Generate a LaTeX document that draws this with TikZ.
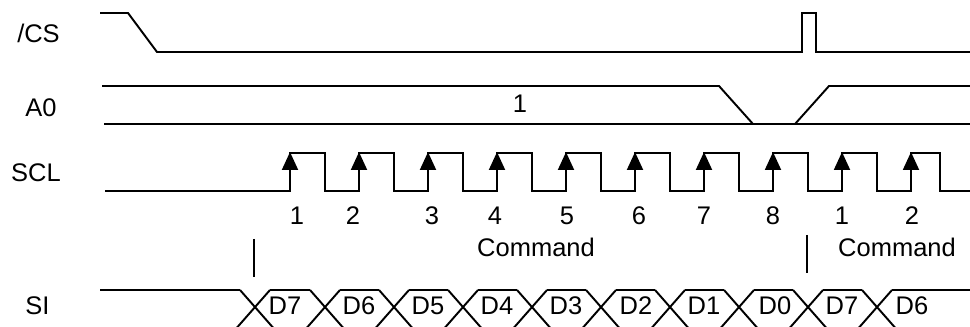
\documentclass[tikz,border=0pt]{standalone}
\usepackage{fontspec}
\setmainfont{Liberation Sans}
\usetikzlibrary{arrows.meta}
\begin{document}
\begin{tikzpicture}[>={Triangle[length=3.6mm,width=3.2mm]},x=0.2mm,y=-0.2mm,line width=1.1pt,
  every node/.style={font=\fontsize{14.5}{17}\selectfont,anchor=base,inner sep=0pt}]
\useasboundingbox (0,0) rectangle (970,327);
\clip (0,0) rectangle (970,327);
% Tên các tín hiệu
\node (cs) at (38.5,43) {/CS};
\node (azero) at (41,117) {A0};
\node (scl) at (36,182) {SCL};
\node (si) at (37.5,315) {SI};
% /CS
\draw (100,13)--(128,13)--(157,52)--(802,52)--(802,13)--(816,13)--(816,52)--(970,52);
% A0
\draw (102,86)--(719,86)--(753,124);
\draw (795,124)--(829,86)--(970,86);
\draw (104,124)--(970,124);
\node (aval) at (520,113) {1};
% SCL: xung clock và mũi tên sườn lên
\draw (105,191) \foreach \r/\f in {290/325,359/394,428/463,497/532,566/601,635/670,704/739,773/808,842/877,911/940}
  { --(\r,191)--(\r,153)--(\f,153)--(\f,191) } --(970,191);
\foreach \r in {290,359,...,911}
\draw[->] (\r,191)--(\r,152);
\foreach \x/\n in {297/1,353/2,432/3,495/4,567/5,639/6,704/7,773/8,842/1,912/2}
\node (n\x) at (\x,225) {\n};
\node (cmda) at (536,257) {Command};
\node (cmdb) at (897,257) {Command};
\draw (254,239)--(254,277);
\draw (807,235)--(807,273);
% SI: các bit dữ liệu
\draw (100,290)--(240,290);
\foreach \c in {255,325,394,463,532,601,670,739,808,877}
{\draw ({\c-15},290)--({\c+21},331); \draw ({\c-21},331)--({\c+15},290);}
\foreach \a/\b in {255/325,325/394,394/463,463/532,532/601,601/670,670/739,739/808,808/877}
\draw ({\a+15},290)--({\b-15},290);
\draw (892,290)--(970,290);
\foreach \x/\d in {285/D7,359/D6,428/D5,497/D4,566/D3,636/D2,704/D1,775/D0,842/D7,912/D6}
\node (d\x) at (\x,315) {\d};
\end{tikzpicture}
\end{document}
